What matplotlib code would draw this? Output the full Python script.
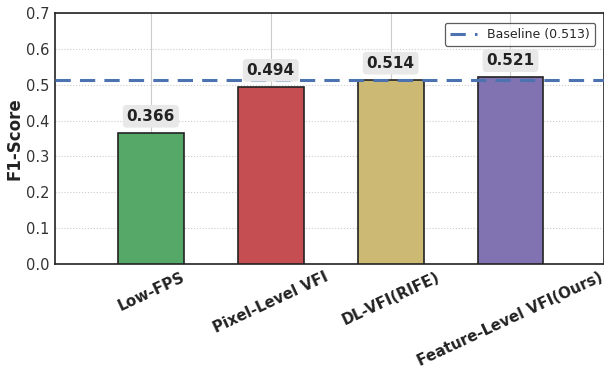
import matplotlib
matplotlib.use("Agg")
import matplotlib.pyplot as plt
import seaborn as sns

categories = ["Low-FPS", "Pixel-Level VFI", "DL-VFI(RIFE)", "Feature-Level VFI(Ours)"]
f1_scores = [0.366, 0.494, 0.514, 0.521]
baseline = 0.513
colors = ["#55a868", "#c44e52", "#ccb974", "#8172b2"]

sns.set_style("whitegrid")
plt.rcParams['font.family'] = ['DejaVu Sans']

fig = plt.figure(figsize=(6.04, 3.70), dpi=100)
ax = fig.add_axes([0.091, 0.2865, 0.909, 0.6785])

x = list(range(len(categories)))
ax.bar(x, f1_scores, width=0.55, color=colors, edgecolor="#222222", linewidth=1.2, zorder=3)
ax.axhline(baseline, color="#4c72b0", linestyle="--", linewidth=2.2, dashes=(5, 3),
           label=f"Baseline ({baseline})", zorder=4)

for xi, v in zip(x, f1_scores):
    ax.text(xi, v + 0.025, f"{v:.3f}", ha="center", va="bottom", fontsize=11,
            fontweight="bold", color="#222222", zorder=5,
            bbox=dict(boxstyle="round,pad=0.25", facecolor="#e8e8e8", edgecolor="none"))

ax.set_xlim(-0.8, 3.78)
ax.set_ylim(0, 0.7)
ax.set_yticks([0, 0.1, 0.2, 0.3, 0.4, 0.5, 0.6, 0.7])
ax.set_yticklabels([f"{t:.1f}" for t in ax.get_yticks()], fontsize=10.5, color="#333333")
ax.set_xticks(x)
ax.set_xticklabels(categories, rotation=25, ha="center", fontsize=10.8, fontweight="bold", color="#222222")
ax.set_ylabel("F1-Score", fontsize=12, fontweight="bold", color="#222222", labelpad=2)

ax.yaxis.grid(True, linestyle=":", color="#cccccc", linewidth=0.8)
ax.xaxis.grid(True, linestyle="-", color="#cccccc", linewidth=0.8)
ax.set_axisbelow(True)
for s in ax.spines.values():
    s.set_color("#222222")
    s.set_linewidth(1.2)
ax.tick_params(axis="both", length=0, pad=4)

leg = ax.legend(loc="upper right", fontsize=9, frameon=True, edgecolor="#333333",
                fancybox=True, handlelength=2.2, borderpad=0.4, bbox_to_anchor=(0.995, 0.985))
leg.get_frame().set_linewidth(0.9)

fig.savefig("out.png", dpi=100)
